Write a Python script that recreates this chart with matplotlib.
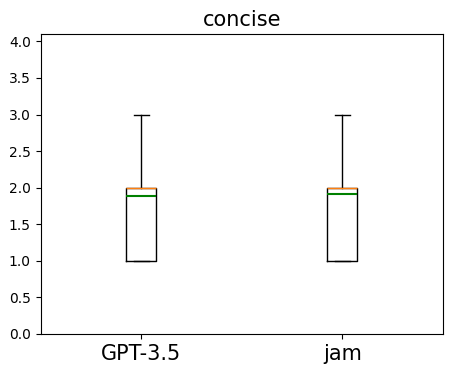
import matplotlib
matplotlib.use('Agg')
import matplotlib.pyplot as plt

# scores (median 2, quartiles 1-2, range 1-3)
gpt_scores = [1, 1, 1, 1, 1, 1, 1, 2, 2, 2, 2, 2, 2, 2, 2, 2, 2, 2, 2, 2, 2, 3, 3, 3, 3]
jam_scores = [1, 1, 1, 1, 1, 1, 1, 2, 2, 2, 2, 2, 2, 2, 2, 2, 2, 3, 3, 3, 3, 3]
labels = ['GPT-3.5', 'jam']

fig, ax = plt.subplots(figsize=(4.51, 3.74), dpi=100)
ax.boxplot([gpt_scores, jam_scores], showmeans=True, meanline=True,
           meanprops=dict(color='green', linestyle='-', linewidth=1.5))
ax.set_xticks([1, 2])
ax.set_xticklabels(labels, fontsize=15)
ax.set_ylim(0, 4.1)
ax.set_title('concise', fontsize=15)
fig.subplots_adjust(left=0.09, right=0.982, top=0.909, bottom=0.107)
fig.savefig('out.png')
